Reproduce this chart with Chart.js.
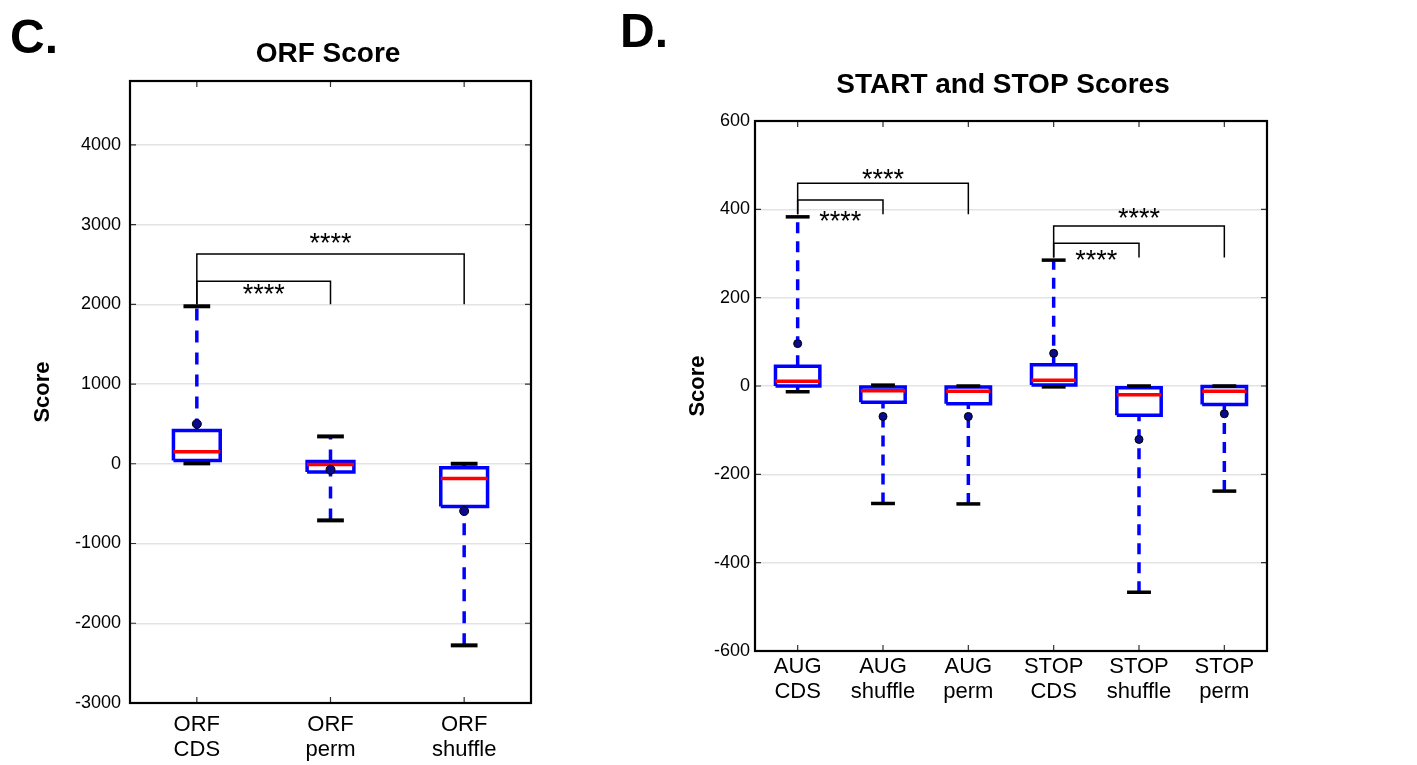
<!DOCTYPE html>
<html>
<head>
<meta charset="utf-8">
<script src="https://cdn.jsdelivr.net/npm/chart.js@4.4.1/dist/chart.umd.min.js"></script>
<style>
  body { margin: 0; background: #fff; width: 1417px; height: 765px; overflow: hidden; position: relative; }
  canvas { position: absolute; top: 0; }
  #chartC { left: 0; }
  #chartD { left: 600px; }
</style>
</head>
<body>
<canvas id="chartC" width="560" height="765"></canvas>
<canvas id="chartD" width="817" height="765"></canvas>
<script>
// panel C: ORF score
const catsC = ['ORF\nCDS', 'ORF\nperm', 'ORF\nshuffle'];
const loC  = [5, -710, -2277];
const q1C  = [42, -104, -535];
const medC = [150, -8, -184];
const q3C  = [418, 29, -50];
const hiC  = [1975, 343, 0];
const dotC = [500, -75, -593];
const yTicksC = [-3000, -2000, -1000, 0, 1000, 2000, 3000, 4000];
const brFromC = [1, 1];
const brToC   = [2, 3];
const brTopC  = [2290, 2630];
const brBaseC = [2000, 2000];
const starXC  = [1.5, 2];
const starYC  = [2210, 2840];

// panel D: START and STOP scores
const catsD = ['AUG\nCDS', 'AUG\nshuffle', 'AUG\nperm', 'STOP\nCDS', 'STOP\nshuffle', 'STOP\nperm'];
const loD  = [-13, -266, -267, -2, -467, -238];
const q1D  = [0, -37, -40, 2, -66, -42];
const medD = [11, -11, -12, 13, -20, -12];
const q3D  = [45, -2, -2, 48, -4, -1];
const hiD  = [383, 2, 0, 285, 0, 0];
const dotD = [96, -69, -69, 74, -121, -63];
const yTicksD = [-600, -400, -200, 0, 200, 400, 600];
const brFromD = [1, 1, 4, 4];
const brToD   = [2, 3, 5, 6];
const brTopD  = [421, 459, 323, 362];
const brBaseD = [389, 389, 291, 291];
const starXD  = [1.5, 2, 4.5, 5];
const starYD  = [387, 483, 300, 395];

const STARS = '****';
const FONT = "'Liberation Sans', Arial, Helvetica, sans-serif";
Chart.defaults.font.family = FONT;
Chart.defaults.color = '#000';

function seg(pts, color, width, order, dash) {
  return {
    type: 'scatter',
    data: pts.map(p => ({ x: p[0], y: p[1] })),
    showLine: true,
    borderColor: color,
    borderWidth: width,
    borderDash: dash || [],
    borderCapStyle: 'butt',
    borderJoinStyle: 'miter',
    pointRadius: 0,
    fill: false,
    order: order
  };
}

function buildSets(d, st) {
  const sets = [];
  for (let i = 0; i < d.lo.length; i++) {
    const x = i + 1;
    const b = st.boxHalf, c = st.capHalf;
    sets.push(seg([[x, d.q3[i]], [x, d.hi[i]]], '#0000ff', st.lw, 7, st.dash));
    sets.push(seg([[x, d.lo[i]], [x, d.q1[i]]], '#0000ff', st.lw, 7, st.dash));
    sets.push(seg([[x - b, d.q1[i]], [x + b, d.q1[i]], [x + b, d.q3[i]], [x - b, d.q3[i]], [x - b, d.q1[i]]], '#0000ff', st.lw, 5));
    sets.push(seg([[x - c, d.hi[i]], [x + c, d.hi[i]]], '#000', st.capW, 4));
    sets.push(seg([[x - c, d.lo[i]], [x + c, d.lo[i]]], '#000', st.capW, 4));
    sets.push(seg([[x - b, d.med[i]], [x + b, d.med[i]]], '#ff0000', st.lw, 3));
  }
  sets.push({
    type: 'scatter',
    data: d.dot.map((v, i) => ({ x: i + 1, y: v })),
    pointRadius: st.dotR,
    pointBackgroundColor: '#0a0a8c',
    pointBorderColor: '#000',
    pointBorderWidth: 1,
    order: 1
  });
  for (let k = 0; k < d.brFrom.length; k++) {
    sets.push(seg([[d.brFrom[k], d.brBase[k]], [d.brFrom[k], d.brTop[k]],
                   [d.brTo[k], d.brTop[k]], [d.brTo[k], d.brBase[k]]], '#000', 1.5, 8));
  }
  return sets;
}

const frame = {
  id: 'frame',
  afterDatasetsDraw(chart) {
    const { ctx, chartArea: a, scales: { x, y } } = chart;
    ctx.save();
    ctx.strokeStyle = '#333';
    ctx.lineWidth = 1.2;
    ctx.beginPath();
    x.ticks.forEach(t => {
      const px = x.getPixelForValue(t.value);
      ctx.moveTo(px, a.bottom); ctx.lineTo(px, a.bottom - 6);
      ctx.moveTo(px, a.top); ctx.lineTo(px, a.top + 6);
    });
    y.ticks.forEach(t => {
      const py = y.getPixelForValue(t.value);
      ctx.moveTo(a.left, py); ctx.lineTo(a.left + 6, py);
      ctx.moveTo(a.right, py); ctx.lineTo(a.right - 6, py);
    });
    ctx.stroke();
    ctx.strokeStyle = '#000';
    ctx.lineWidth = 2.2;
    ctx.strokeRect(a.left, a.top, a.width, a.height);
    ctx.restore();
  }
};

function decor(o) {
  return {
    id: 'decor',
    afterDraw(chart) {
      const { ctx, scales: { x, y } } = chart;
      ctx.save();
      ctx.fillStyle = '#000';
      ctx.textBaseline = 'alphabetic';
      ctx.textAlign = 'left';
      ctx.font = 'bold 48px ' + FONT;
      ctx.fillText(o.letter, o.letterX, o.letterY);
      ctx.textAlign = 'center';
      ctx.font = 'bold 28px ' + FONT;
      ctx.fillText(o.title, o.titleX, o.titleY);
      ctx.font = '27px ' + FONT;
      o.starX.forEach((sx, i) => {
        ctx.fillText(STARS, x.getPixelForValue(sx), y.getPixelForValue(o.starY[i]) + 15);
      });
      ctx.restore();
    }
  };
}

function makeChart(id, d, st, L, o) {
  return new Chart(document.getElementById(id), {
    type: 'scatter',
    data: { datasets: buildSets(d, st) },
    options: {
      responsive: false,
      animation: false,
      events: [],
      layout: { padding: { left: L.padL, right: L.padR, top: L.padT, bottom: 0 } },
      plugins: { legend: { display: false }, tooltip: { enabled: false } },
      scales: {
        x: {
          type: 'linear',
          min: 0.5,
          max: d.cats.length + 0.5,
          afterBuildTicks: s => { s.ticks = d.cats.map((c, i) => ({ value: i + 1 })); },
          afterFit: s => { s.height = L.xh; },
          grid: { display: false, drawTicks: false },
          border: { display: false },
          ticks: {
            autoSkip: false,
            maxRotation: 0,
            padding: L.xPad,
            color: '#000',
            font: { size: 22, lineHeight: 1.15 },
            callback: v => d.cats[Math.round(v) - 1].split('\n')
          }
        },
        y: {
          min: d.yMin,
          max: d.yMax,
          afterBuildTicks: s => { s.ticks = d.yTicks.map(v => ({ value: v })); },
          afterFit: s => { s.width = L.yw; },
          grid: { color: '#e3e3e3', lineWidth: 1.5, drawTicks: false },
          border: { display: false },
          ticks: { padding: L.yPad, color: '#000', font: { size: 18 }, callback: v => String(v) },
          title: { display: true, text: 'Score', color: '#000', padding: 0, font: { size: 22, weight: 'bold' } }
        }
      }
    },
    plugins: [frame, decor(o)]
  });
}

makeChart('chartC',
  { cats: catsC, lo: loC, q1: q1C, med: medC, q3: q3C, hi: hiC, dot: dotC,
    yTicks: yTicksC, yMin: -3000, yMax: 4800,
    brFrom: brFromC, brTo: brToC, brTop: brTopC, brBase: brBaseC },
  { boxHalf: 0.175, capHalf: 0.1, lw: 3.5, capW: 4, dotR: 4.5, dash: [12, 10] },
  { padL: 30, padR: 29, padT: 81, yw: 100, xh: 62, xPad: 9, yPad: 9 },
  { letter: 'C.', letterX: 10, letterY: 53, title: 'ORF Score', titleX: 328, titleY: 62,
    starX: starXC, starY: starYC });

makeChart('chartD',
  { cats: catsD, lo: loD, q1: q1D, med: medD, q3: q3D, hi: hiD, dot: dotD,
    yTicks: yTicksD, yMin: -600, yMax: 600,
    brFrom: brFromD, brTo: brToD, brTop: brTopD, brBase: brBaseD },
  { boxHalf: 0.26, capHalf: 0.14, lw: 3.5, capW: 3.5, dotR: 4, dash: [11, 8] },
  { padL: 85, padR: 150, padT: 121, yw: 70, xh: 114, xPad: 3, yPad: 5 },
  { letter: 'D.', letterX: 20, letterY: 47, title: 'START and STOP Scores', titleX: 403, titleY: 93,
    starX: starXD, starY: starYD });
</script>
</body>
</html>
